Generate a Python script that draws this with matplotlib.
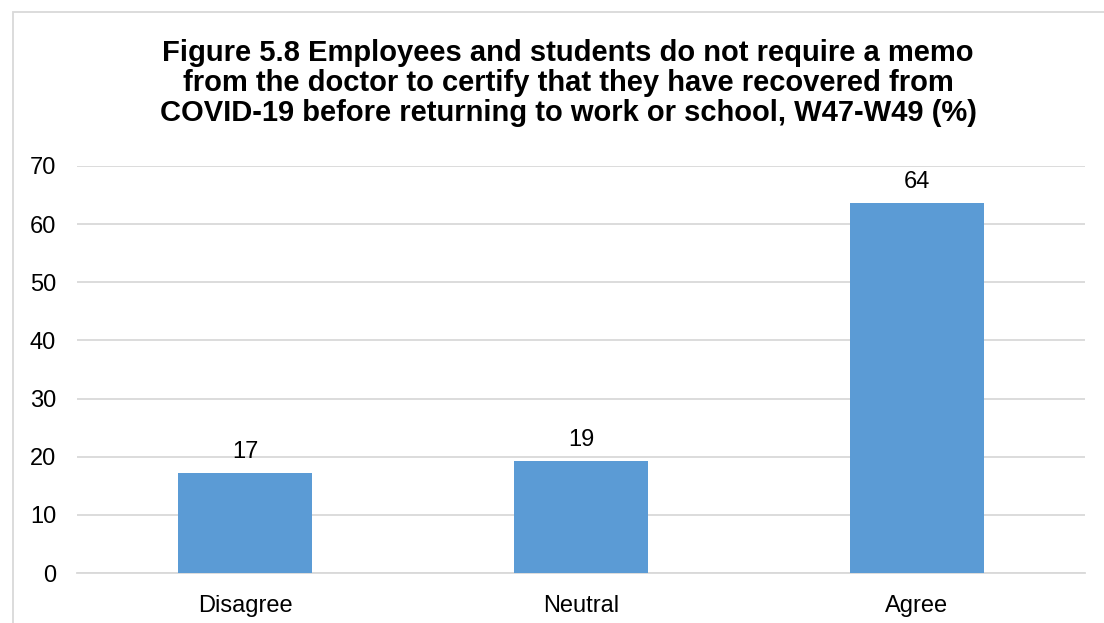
import matplotlib
matplotlib.use("Agg")
import matplotlib.pyplot as plt
from matplotlib.patches import Rectangle

plt.rcParams['font.family'] = ['Liberation Sans', 'DejaVu Sans']

# Survey responses, W47-W49 (%)
categories = ["Disagree", "Neutral", "Agree"]
values = [17.2, 19.3, 63.7]
y_ticks = [0, 10, 20, 30, 40, 50, 60, 70]
title = ("Figure 5.8 Employees and students do not require a memo\n"
         "from the doctor to certify that they have recovered from\n"
         "COVID-19 before returning to work or school, W47-W49 (%)")

W, H = 1104, 623
fig = plt.figure(figsize=(W / 100, H / 100), dpi=100)
ax = fig.add_axes([77 / W, 1 - 573 / H, (1085 - 77) / W, (573 - 166) / H])

bar_color = "#5B9BD5"
grid_color = "#D9D9D9"
label_size = 17

x = range(len(categories))
bars = ax.bar(x, values, width=0.4, color=bar_color, zorder=3)

for b, v in zip(bars, values):
    ax.annotate(f"{v:.0f}", (b.get_x() + b.get_width() / 2, v),
                xytext=(0, 7), textcoords="offset points",
                ha="center", va="bottom", fontsize=label_size, color="#000000")

ax.set_xlim(-0.5, len(categories) - 0.5)
ax.set_ylim(0, 70)
ax.set_yticks(y_ticks)
ax.set_xticks(list(x))
ax.set_xticklabels(categories)
ax.tick_params(axis="both", length=0, labelsize=label_size, colors="#000000")
ax.tick_params(axis="y", pad=15)
ax.tick_params(axis="x", pad=16)
ax.yaxis.grid(True, color=grid_color, linewidth=1.3, zorder=0)
ax.set_axisbelow(True)
for side in ["top", "right", "left"]:
    ax.spines[side].set_visible(False)
ax.spines["bottom"].set_color(grid_color)
ax.spines["bottom"].set_linewidth(1.3)

fig.text(568 / W, 1 - 83 / H, title, ha="center", va="center",
         fontsize=21, fontweight="bold", linespacing=1.1, color="#000000")

# Chart frame
fig.patches.append(Rectangle((12.5 / W, -0.05), 1.1, 1 - 11.5 / H + 0.05,
                             transform=fig.transFigure, fill=False,
                             edgecolor=grid_color, linewidth=1.3,
                             clip_on=False))

fig.savefig("out.png", dpi=100, facecolor="white")
